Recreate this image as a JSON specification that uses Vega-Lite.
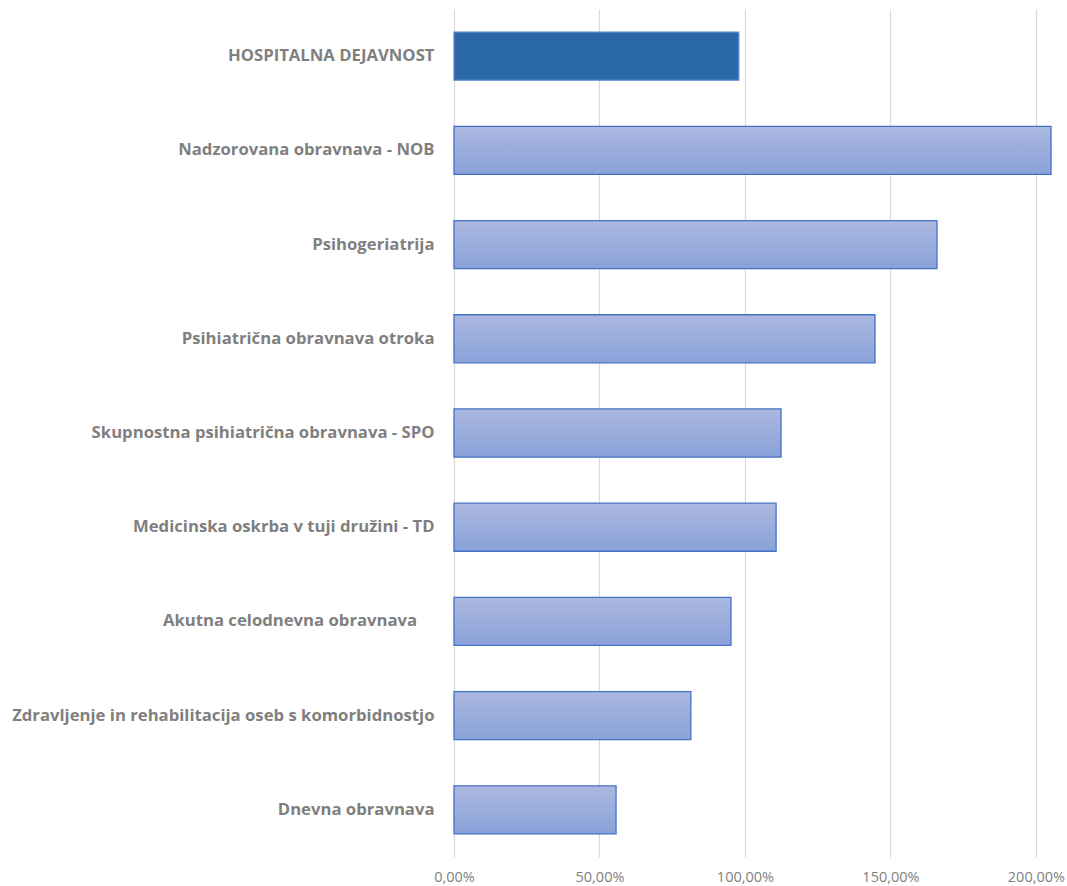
{
  "$schema": "https://vega.github.io/schema/vega-lite/v6.json",
  "autosize": "none",
  "padding": {"left": 454, "top": 9, "right": 0, "bottom": 29},
  "width": 611,
  "height": 848,
  "background": "white",
  "data": {
    "values": [
      {"kategorija": "HOSPITALNA DEJAVNOST", "delez": 97.9, "skupno": "da"},
      {"kategorija": "Nadzorovana obravnava - NOB", "delez": 205.2, "skupno": "ne"},
      {"kategorija": "Psihogeriatrija", "delez": 166.0, "skupno": "ne"},
      {"kategorija": "Psihiatrična obravnava otroka", "delez": 144.7, "skupno": "ne"},
      {"kategorija": "Skupnostna psihiatrična obravnava - SPO", "delez": 112.4, "skupno": "ne"},
      {"kategorija": "Medicinska oskrba v tuji družini - TD", "delez": 110.7, "skupno": "ne"},
      {"kategorija": "Akutna celodnevna obravnava\u00a0\u00a0\u00a0\u00a0\u200b", "delez": 95.2, "skupno": "ne"},
      {"kategorija": "Zdravljenje in rehabilitacija oseb s komorbidnostjo", "delez": 81.4, "skupno": "ne"},
      {"kategorija": "Dnevna obravnava", "delez": 55.7, "skupno": "ne"}
    ]
  },
  "encoding": {
    "y": {
      "field": "kategorija",
      "type": "nominal",
      "sort": [
        "HOSPITALNA DEJAVNOST",
        "Nadzorovana obravnava - NOB",
        "Psihogeriatrija",
        "Psihiatrična obravnava otroka",
        "Skupnostna psihiatrična obravnava - SPO",
        "Medicinska oskrba v tuji družini - TD",
        "Akutna celodnevna obravnava\u00a0\u00a0\u00a0\u00a0\u200b",
        "Zdravljenje in rehabilitacija oseb s komorbidnostjo",
        "Dnevna obravnava"
      ],
      "title": null,
      "scale": {"paddingInner": 0.49, "paddingOuter": 0.245},
      "axis": {
        "domain": false,
        "ticks": false,
        "labelPadding": 20,
        "labelFont": "Open Sans",
        "labelFontSize": 16.7,
        "labelFontWeight": "bold",
        "labelColor": "#7f7f7f",
        "labelLimit": 460
      }
    },
    "x": {
      "field": "delez",
      "type": "quantitative",
      "title": null,
      "scale": {"domain": [0, 210], "nice": false},
      "axis": {
        "values": [0, 50, 100, 150, 200],
        "labelExpr": "replace(format(datum.value, '.2f'), '.', ',') + '%'",
        "labelFlush": false,
        "labelOverlap": false,
        "domain": false,
        "ticks": false,
        "grid": true,
        "gridColor": "#d9d9d9",
        "gridWidth": 1.2,
        "labelPadding": 13,
        "labelFont": "Open Sans",
        "labelFontSize": 14.5,
        "labelColor": "#7f7f7f"
      }
    }
  },
  "layer": [
    {
      "transform": [{"filter": "datum.skupno == 'ne'"}],
      "mark": {
        "type": "bar",
        "stroke": "#4472c4",
        "strokeWidth": 1.3,
        "fill": {
          "gradient": "linear",
          "x1": 0, "y1": 0, "x2": 0, "y2": 1,
          "stops": [
            {"offset": 0, "color": "#abb8e0"},
            {"offset": 1, "color": "#8aa2d9"}
          ]
        }
      }
    },
    {
      "transform": [{"filter": "datum.skupno == 'da'"}],
      "mark": {
        "type": "bar",
        "fill": "#2a69a6",
        "stroke": "#5b8ad0",
        "strokeWidth": 1.2
      }
    }
  ],
  "config": {"view": {"stroke": null}}
}
